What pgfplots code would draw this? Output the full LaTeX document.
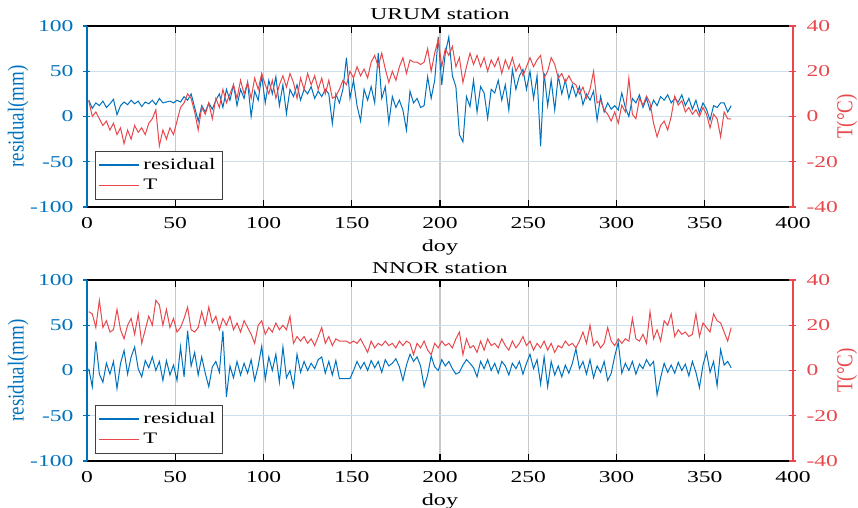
\documentclass[border=0pt]{standalone}
\usepackage{fontspec}
\setmainfont{Liberation Serif}[FakeStretch=1.42]
\newfontfamily\labelfont{Liberation Serif}
\usepackage{graphicx}
\usepackage{pgfplots}
\usepackage{pgfplotstable}
\pgfplotsset{compat=1.18}

\definecolor{resblue}{RGB}{0,114,189}
\definecolor{tred}{RGB}{232,72,76}
\definecolor{hgrid}{RGB}{205,224,240}
\definecolor{vgrid}{RGB}{200,200,200}

% day, residual (mm), temperature (C)
\pgfplotstableread{
day res T
1 18 7
3 9 0
5 15 2
7 12 -1
9 17 -4
11 10 -2
13 14 -6
15 19 -3
17 2 -8
19 12 -5
21 16 -12
23 13 -6
25 18 -10
27 14 -4
29 17 -7
31 11 -5
33 16 -8
35 14 -3
37 18 -1
39 13 3
41 20 -13
43 15 -6
45 16 -10
47 17 -5
49 15 -8
51 18 -2
53 16 4
55 22 6
57 18 10
59 25 8
61 10 2
63 -5 -6
65 12 4
67 5 1
69 15 6
71 8 -1
73 18 8
75 25 4
77 10 12
79 30 6
81 18 10
83 35 14
85 12 8
87 30 16
89 20 10
91 38 15
93 0 8
95 28 17
97 18 12
99 45 19
101 15 14
103 40 10
105 25 16
107 44 8
109 12 14
111 35 18
113 3 13
115 30 19
117 22 15
119 35 8
121 18 17
123 30 12
125 25 19
127 33 14
129 20 18
131 28 12
133 22 17
135 30 10
137 25 16
139 -8 8
141 25 9
143 15 12
145 30 16
147 65 14
149 20 20
151 40 17
153 12 22
155 -5 18
157 30 21
159 18 17
161 33 24
163 15 27
165 70 22
167 20 28
169 33 21
171 -7 15
173 22 20
175 10 16
177 18 22
179 7 26
181 -15 19
183 28 25
185 15 24
187 20 24
189 10 23
191 12 24
193 44 30
195 20 20
197 40 28
199 88 34
201 35 22
203 70 30
205 88 27
207 45 31
209 33 22
211 -20 26
213 -28 15
215 22 22
217 11 28
219 40 23
221 5 27
223 33 22
225 26 26
227 -2 20
229 30 25
231 26 22
233 40 26
235 18 19
237 35 25
239 7 21
241 52 26
243 30 20
245 45 23
247 52 18
249 30 22
251 50 26
253 20 22
255 45 25
257 -33 27
259 48 17
261 12 20
263 40 26
265 7 23
267 45 17
269 25 19
271 40 15
273 20 18
275 35 15
277 22 14
279 33 10
281 13 13
283 25 8
285 18 12
287 28 20
289 -4 6
291 22 7
293 5 3
295 15 1
297 8 -2
299 12 2
301 7 -3
303 26 5
305 10 2
307 0 17
309 20 1
311 15 -1
313 24 8
315 10 5
317 20 9
319 7 6
321 18 -3
323 12 -9
325 22 -4
327 18 -2
329 24 -6
331 15 0
333 20 9
335 16 5
337 24 7
339 12 2
341 20 4
343 8 1
345 18 3
347 4 0
349 15 4
351 8 1
353 -4 -5
355 12 1
357 10 -1
359 15 -9
361 15 2
363 5 -1
365 12 -1
}\urum

\pgfplotstableread{
day res T
1 2 26
3 -18 25
5 32 19
7 -4 31
9 -13 19
11 8 22
13 -4 17
15 10 18
17 -20 27
19 8 18
21 22 14
23 -4 20
25 15 23
27 26 16
29 2 25
31 -7 12
33 11 18
35 3 24
37 15 20
39 0 31
41 10 29
43 -11 20
45 11 27
47 -5 19
49 6 23
51 -11 17
53 26 19
55 -7 23
57 44 28
59 5 18
61 20 17
63 -5 19
65 15 26
67 -3 20
69 -18 28
71 4 21
73 10 24
75 -2 18
77 44 23
79 -29 20
81 5 24
83 -8 18
85 10 21
87 -5 17
89 8 22
91 -3 19
93 12 16
95 -11 12
97 5 20
99 27 22
101 -10 16
103 15 19
105 0 17
107 18 21
109 -13 18
111 26 20
113 -8 18
115 0 24
117 -18 12
119 18 15
121 -2 13
123 10 15
125 0 12
127 8 14
129 2 11
131 12 15
133 15 19
135 -3 12
137 10 15
139 -5 11
141 11 14
143 -9 13
145 -9 13
147 -9 13
149 -9 12
151 0 13
153 10 12
155 2 14
157 9 11
159 0 8
161 11 13
163 3 10
165 10 12
167 -2 11
169 12 13
171 5 11
173 8 12
175 13 10
177 4 13
179 -11 11
181 6 13
183 18 12
185 10 7
187 15 12
189 5 10
191 -18 13
193 -5 9
195 16 7
197 4 12
199 0 10
201 12 13
203 5 11
205 10 12
207 2 10
209 -4 14
211 -2 17
213 6 7
215 12 14
217 8 10
219 3 11
221 -7 8
223 10 13
225 2 9
227 12 14
229 0 11
231 8 12
233 -3 10
235 10 14
237 5 11
239 -5 9
241 8 13
243 2 10
245 10 12
247 -4 15
249 8 11
251 18 13
253 2 9
255 12 12
257 -15 10
259 15 13
261 -18 9
263 10 12
265 -5 8
267 5 11
269 -7 10
271 6 13
273 -3 11
275 8 12
277 24 10
279 2 13
281 10 17
283 -4 12
285 12 20
287 -8 11
289 5 13
291 -2 10
293 10 12
295 -11 19
297 -3 13
299 16 11
301 31 14
303 -3 12
305 8 14
307 0 13
309 10 23
311 -4 14
313 7 13
315 2 16
317 12 12
319 5 26
321 10 14
323 -27 18
325 -8 13
327 8 22
329 -2 20
331 6 25
333 -3 15
335 9 18
337 0 16
339 7 17
341 -6 15
343 10 16
345 -2 25
347 -19 15
349 6 21
351 20 19
353 -2 17
355 10 25
357 -17 22
359 23 21
361 6 17
363 10 13
365 3 19
}\nnor

\tikzset{
  paneltitle/.style={font=\fontsize{8.3}{9}\selectfont, anchor=base,
    yshift=3pt, inner sep=0pt},
}

\pgfplotsset{
  panel/.style={
    width=353pt, height=90.5pt, scale only axis,
    xmin=0, xmax=400,
    tick align=inside, major tick length=3.5pt,
    /pgf/number format/assume math mode=true,
    tick label style={font=\fontsize{8.3}{9}\selectfont},
    axis line style={-},
  },
  leftpanel/.style={
    panel,
    axis x line=box, axis y line=left,
    xtick={0,50,...,400},
    ymin=-100, ymax=100, ytick={-100,-50,0,50,100},
    xmajorgrids, ymajorgrids,
    x grid style={vgrid, line width=0.7pt},
    y grid style={hgrid, line width=0.6pt},
    x axis line style={black, line width=0.6pt, -},
    y axis line style={resblue, line width=0.9pt, -},
    xtick style={black, line width=0.6pt},
    ytick style={resblue, line width=0.6pt},
    yticklabel style={text=resblue, xshift=-1.5pt},
    xticklabel style={yshift=-1.5pt},
    ylabel={\scalebox{1}[1.2]{residual(mm)}},
    ylabel style={font=\labelfont\fontsize{9.5}{11}\selectfont, text=resblue,
      at={(axis description cs:-0.0977,0.5)}, anchor=center},
    xlabel={doy},
    xlabel style={font=\fontsize{8.5}{10}\selectfont,
      at={(axis description cs:0.5,0)}, anchor=center, yshift=-20pt},
    clip=false,
  },
  rightpanel/.style={
    panel,
    axis x line=none, axis y line=right,
    ymin=-40, ymax=40, ytick={-40,-20,0,20,40},
    y axis line style={tred, line width=0.9pt, -},
    ytick style={tred, line width=0.6pt},
    yticklabel style={text=tred, xshift=1.5pt},
    ylabel={\scalebox{1}[1.2]{T(°C)}},
    ylabel style={font=\labelfont\fontsize{9.5}{11}\selectfont, text=tred,
      at={(axis description cs:1.0765,0.5)}, anchor=center},
    legend style={at={(0.0113,0.039)}, anchor=south west, draw=black!75,
      fill=white, font=\fontsize{8}{9.5}\selectfont, legend cell align=left,
      inner sep=1.5pt, row sep=-0.5pt},
    legend image code/.code={\draw[#1, line width=0.55pt]
      (0pt,0pt) -- (20pt,0pt);},
  },
}

\begin{document}
\begin{tikzpicture}
\begin{axis}[leftpanel]
\addplot[color=resblue, line width=0.5pt] table[x=day, y=res]{\urum};
\node[paneltitle] at (rel axis cs:0.5,1) {URUM station};
\end{axis}
\begin{axis}[rightpanel]
\addlegendimage{color=resblue, draw=resblue}
\addlegendentry{residual}
\addplot[color=tred, draw=tred, line width=0.5pt] table[x=day, y=T]{\urum};
\addlegendentry{T}
\end{axis}

\begin{axis}[leftpanel, at={(0pt,-127pt)}]
\addplot[color=resblue, line width=0.5pt] table[x=day, y=res]{\nnor};
\node[paneltitle] at (rel axis cs:0.5,1) {NNOR station};
\end{axis}
\begin{axis}[rightpanel, at={(0pt,-127pt)}]
\addlegendimage{color=resblue, draw=resblue}
\addlegendentry{residual}
\addplot[color=tred, draw=tred, line width=0.5pt] table[x=day, y=T]{\nnor};
\addlegendentry{T}
\end{axis}

\pgfresetboundingbox
\path (-43.5pt,-150.5pt) rectangle (385.5pt,103.5pt);
\end{tikzpicture}
\end{document}
